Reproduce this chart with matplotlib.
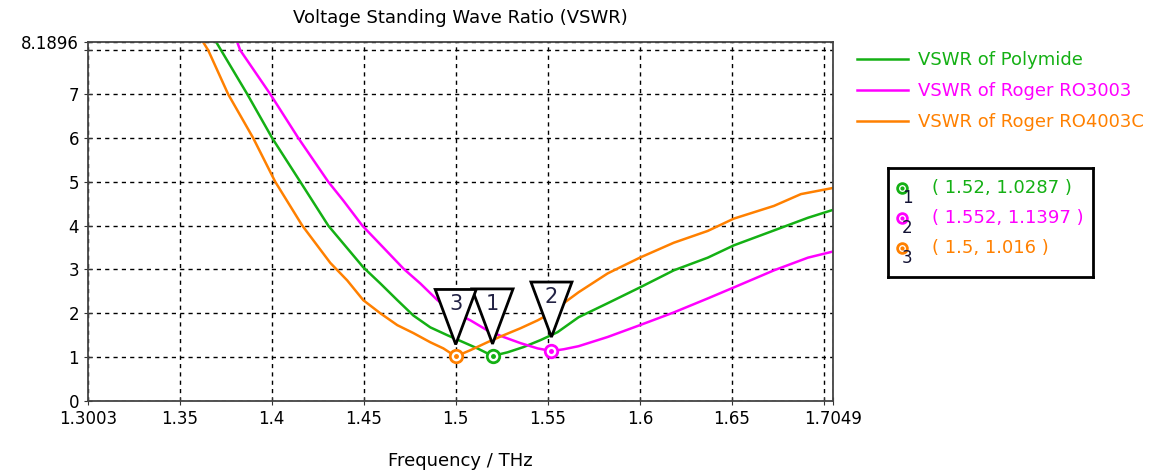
import matplotlib
matplotlib.use("Agg")
import matplotlib.pyplot as plt
from matplotlib import transforms
from matplotlib.patches import Polygon

# VSWR curves (frequency in THz)
f_poly = [1.3699, 1.3726, 1.3868, 1.4003, 1.4156, 1.4308, 1.4498, 1.4591, 1.4683,
          1.4770, 1.4862, 1.4955, 1.5042, 1.5118, 1.5200, 1.5281, 1.5368, 1.5461,
          1.5553, 1.5667, 1.5825, 1.6000, 1.6184, 1.6369, 1.6510, 1.6728, 1.6913,
          1.7049]
v_poly = [8.1896, 8.0, 7.0, 6.0, 5.0, 4.0, 3.05, 2.68, 2.30,
          1.95, 1.68, 1.50, 1.34, 1.20, 1.0287, 1.11, 1.23, 1.39,
          1.57, 1.91, 2.23, 2.59, 2.98, 3.27, 3.55, 3.89, 4.18,
          4.36]

f_ro3003 = [1.3813, 1.3830, 1.3993, 1.4145, 1.4308, 1.4390, 1.4493, 1.4607, 1.4716,
            1.4808, 1.4901, 1.4988, 1.5080, 1.5172, 1.5260, 1.5352, 1.5445, 1.5520,
            1.5586, 1.5667, 1.5825, 1.6000, 1.6184, 1.6369, 1.6510, 1.6728, 1.6913,
            1.7049]
v_ro3003 = [8.1896, 8.0, 7.0, 6.0, 5.0, 4.57, 4.0, 3.50, 3.02,
            2.68, 2.30, 2.03, 1.84, 1.61, 1.46, 1.32, 1.20, 1.1397,
            1.18, 1.25, 1.46, 1.73, 2.02, 2.34, 2.59, 2.98, 3.27,
            3.41]

f_ro4003c = [1.3628, 1.3656, 1.3764, 1.3900, 1.4020, 1.4167, 1.4319, 1.4411, 1.4498,
             1.4591, 1.4683, 1.4770, 1.4862, 1.4933, 1.5000, 1.5080, 1.5172, 1.5260,
             1.5352, 1.5445, 1.5515, 1.5586, 1.5667, 1.5825, 1.6000, 1.6184, 1.6369,
             1.6510, 1.6728, 1.6875, 1.7049]
v_ro4003c = [8.1896, 8.0, 7.0, 6.0, 5.0, 4.0, 3.15, 2.75, 2.30,
             2.00, 1.73, 1.55, 1.34, 1.20, 1.016, 1.16, 1.34, 1.50,
             1.66, 1.84, 2.00, 2.23, 2.48, 2.91, 3.27, 3.61, 3.88,
             4.16, 4.45, 4.72, 4.86]

labels = ["VSWR of Polymide", "VSWR of Roger RO3003", "VSWR of Roger RO4003C"]
colors = ["#14b014", "#ff00ff", "#ff8000"]

# marker points (number, freq, vswr)
mk_id = ["1", "2", "3"]
mk_f = [1.52, 1.552, 1.5]
mk_v = [1.0287, 1.1397, 1.016]
mk_txt = ["( 1.52, 1.0287 )", "( 1.552, 1.1397 )", "( 1.5, 1.016 )"]

xticks = [1.3003, 1.35, 1.4, 1.45, 1.5, 1.55, 1.6, 1.65, 1.7, 1.7049]
xlabels = ["1.3003", "1.35", "1.4", "1.45", "1.5", "1.55", "1.6", "1.65", "", "1.7049"]
yticks = [0, 1, 2, 3, 4, 5, 6, 7, 8, 8.1896]
ylabels = ["0", "1", "2", "3", "4", "5", "6", "7", "", "8.1896"]

plt.rcParams["font.family"] = ["DejaVu Sans"]
fig = plt.figure(figsize=(11.54, 4.72), dpi=100)
ax = fig.add_axes([88 / 1154, 1 - 401 / 472, 745 / 1154, 359 / 472])

for f, v, lab, c in [(f_poly, v_poly, labels[0], colors[0]),
                     (f_ro3003, v_ro3003, labels[1], colors[1]),
                     (f_ro4003c, v_ro4003c, labels[2], colors[2])]:
    ax.plot(f, v, color=c, lw=1.8, label=lab)

ax.set_xlim(1.3003, 1.7049)
ax.set_ylim(0, 8.1896)
ax.set_xticks(xticks)
ax.set_xticklabels(xlabels)
ax.set_yticks(yticks)
ax.set_yticklabels(ylabels)
ax.tick_params(direction="inout", length=6, labelsize=12, colors="#333333", labelcolor="black")
ax.grid(True, color="black", ls=(0, (3, 3)), lw=1)
for s in ax.spines.values():
    s.set_color("#444444")
    s.set_linewidth(1.3)

ax.set_title("Voltage Standing Wave Ratio (VSWR)", fontsize=13, pad=14)
ax.set_xlabel("Frequency / THz", fontsize=13, labelpad=17)

# marker circles on the curves
mcol = [colors[0], colors[1], colors[2]]
for i in range(3):
    ax.plot(mk_f[i], mk_v[i], "o", ms=9, mfc="white", mec=mcol[i], mew=2, zorder=5)
    ax.plot(mk_f[i], mk_v[i], "o", ms=2.5, mfc=mcol[i], mec=mcol[i], zorder=6)

# triangle flags above the markers (offsets in inches, figure at 100 dpi)
flag_up = [0.12, 0.14, 0.12]
for i in range(3):
    trans = fig.dpi_scale_trans + transforms.ScaledTranslation(mk_f[i], mk_v[i], ax.transData)
    a = flag_up[i]
    tri = Polygon([(0, a), (-0.205, a + 0.55), (0.205, a + 0.55)], closed=True,
                  facecolor="white", edgecolor="black", lw=2, transform=trans, zorder=7)
    ax.add_patch(tri)
    ax.text(0, a + 0.40, mk_id[i], transform=trans, ha="center", va="center",
            fontsize=15, color="#222244", zorder=8)

# legend on the right
ax.legend(loc="upper left", bbox_to_anchor=(857 / 1154, 1 - 51 / 472),
          bbox_transform=fig.transFigure, frameon=False, fontsize=13,
          handlelength=2.8, handletextpad=0.6, labelspacing=0.72, labelcolor="linecolor",
          borderaxespad=0, borderpad=0)

# marker readout box
bx = fig.add_axes([888 / 1154, 1 - 277 / 472, 205 / 1154, 109 / 472])
bx.set_xlim(0, 205)
bx.set_ylim(109, 0)
bx.set_xticks([])
bx.set_yticks([])
for s in bx.spines.values():
    s.set_linewidth(2)
    s.set_color("black")
for i in range(3):
    yy = 20 + 30 * i
    bx.plot(14, yy, "o", ms=7, mfc="white", mec=mcol[i], mew=2)
    bx.plot(14, yy, "o", ms=2, mfc=mcol[i], mec=mcol[i])
    bx.text(19, yy + 10, mk_id[i], fontsize=12, ha="center", va="center", color="#111133")
    bx.text(44, yy, mk_txt[i], fontsize=13, va="center", color=mcol[i])

fig.savefig("out.png", dpi=100)
